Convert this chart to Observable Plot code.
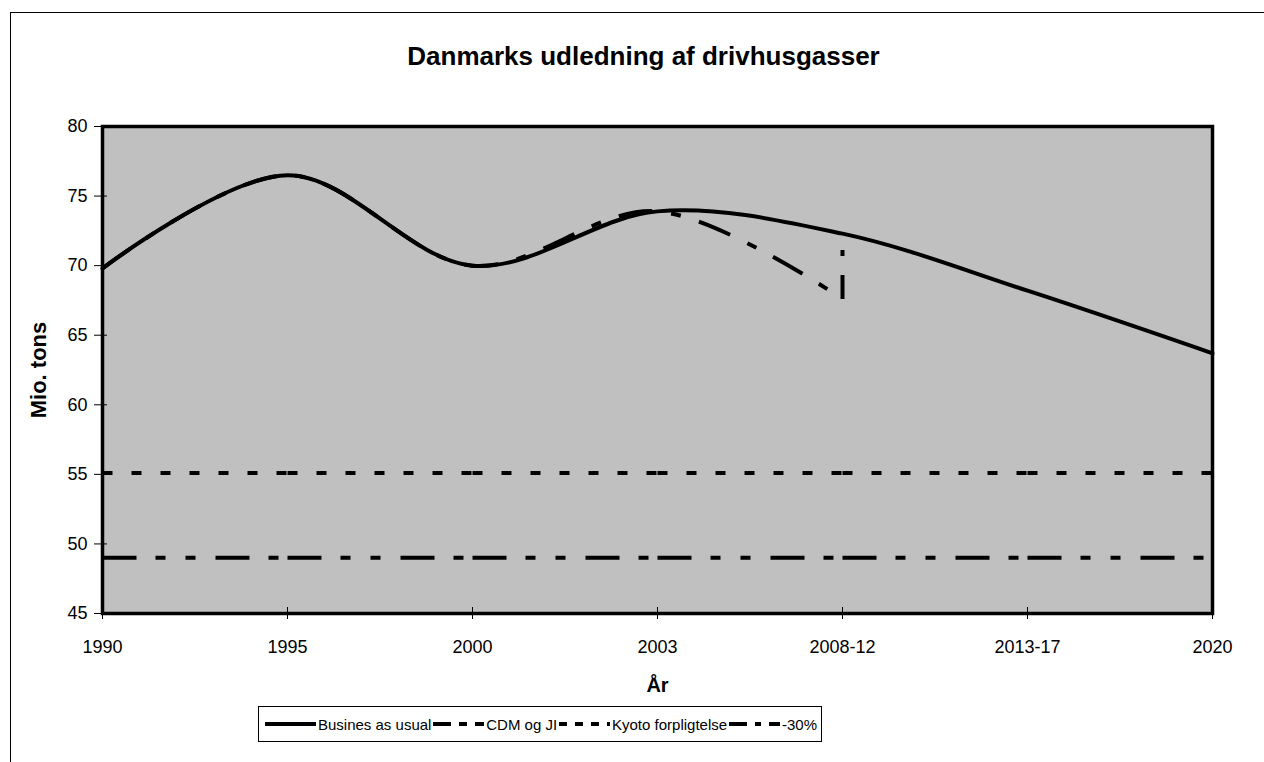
<!DOCTYPE html>
<html><head><meta charset="utf-8">
<script src="https://cdn.jsdelivr.net/npm/d3@7"></script>
<script src="https://cdn.jsdelivr.net/npm/@observablehq/plot@0.6"></script>
<style>
body{margin:0;background:#fff;font-family:"Liberation Sans",Arial,sans-serif}
#wrap{position:relative;width:1264px;height:762px;overflow:hidden;background:#fff}
#border{position:absolute;left:10px;top:12px;width:1400px;height:900px;border-left:1px solid #000;border-top:1px solid #000}
#chart{position:absolute;left:0;top:0}
#legend{position:absolute;left:258px;top:706px;width:564px;box-sizing:border-box;border:1px solid #000;background:#fff;display:flex;align-items:center;justify-content:space-between;height:36px;padding:0 4px 0 6px;font-size:15px;white-space:nowrap}
#legend .item{display:flex;align-items:center}
#legend svg{margin-right:2px}
</style></head><body>
<div id="wrap"><div id="border"></div><div id="chart"></div><div id="legend"></div></div>
<script>
const categories = ["1990","1995","2000","2003","2008-12","2013-17","2020"];
const businessAsUsual = [69.8, 76.5, 70.0, 73.9, 72.3, 68.2, 63.7];
const cdmCategories = ["1990","1995","2000","2003","2008-12","2008-12"];
const cdmValues = [69.8, 76.5, 70.0, 73.9, 67.6, 71.3];
const kyotoValue = 55.1;
const minus30Value = 49.0;
const yTicks = [45,50,55,60,65,70,75,80];
const seriesNames = ["Busines as usual","CDM og JI","Kyoto forpligtelse","-30%"];
const title = "Danmarks udledning af drivhusgasser";
const xLabel = "År";
const yLabel = "Mio. tons";

const dashes = ["none","34,19,10,19","10,19","34,19,10,20,10,20"];
const legendDashes = ["none","18,8,8,8","8,8","18,8,6,8"];
const lw = 4;

const bauData = categories.map((c,i)=>({x:i, y:businessAsUsual[i]}));
const cdmData = cdmCategories.map((c,i)=>({x:categories.indexOf(c), y:cdmValues[i]}));
const cdmCurve = cdmData.slice(0, cdmData.length-1);
const cdmLast = cdmData.slice(cdmData.length-2);
function segs(v){
  const out=[];
  for(let i=0;i<categories.length-1;i++){ out.push({x:i,y:v,s:i},{x:i+1,y:v,s:i}); }
  return out;
}
const kyotoData = segs(kyotoValue);
const m30Data = segs(minus30Value);

const fontFamily = "Liberation Sans, Arial, sans-serif";
const chart = Plot.plot({
  width: 1264, height: 762,
  marginLeft: 102, marginRight: 52, marginTop: 126, marginBottom: 149,
  style: {fontFamily, fontSize:"18px", background:"transparent", color:"#000", overflow:"visible"},
  x: {domain:[0, categories.length-1]},
  y: {domain:[45,80]},
  marks: [
    Plot.frame({fill:"#c0c0c0"}),
    Plot.line(m30Data, {x:"x", y:"y", z:"s", stroke:"#000", strokeWidth:lw, strokeDasharray:dashes[3], strokeLinecap:"butt"}),
    Plot.line(kyotoData, {x:"x", y:"y", z:"s", stroke:"#000", strokeWidth:lw, strokeDasharray:dashes[2], strokeLinecap:"butt"}),
    Plot.line(cdmCurve, {x:"x", y:"y", curve:"catmull-rom", stroke:"#000", strokeWidth:lw, strokeDasharray:dashes[1], strokeLinecap:"butt"}),
    Plot.line(cdmLast, {x:"x", y:"y", stroke:"#000", strokeWidth:lw, strokeDasharray:"24,19,6,19", strokeLinecap:"butt"}),
    Plot.line(bauData, {x:"x", y:"y", curve:"catmull-rom", stroke:"#000", strokeWidth:lw}),
    Plot.frame({stroke:"#000", strokeWidth:3.5}),
    Plot.axisX({ticks: d3.range(categories.length), tickFormat: i=>categories[i], tickSize:12, dy:-6, tickPadding:21, label:null, fontSize:18}),
    Plot.axisY({ticks: yTicks, tickSize:13, dx:5, tickPadding:7, label:null, fontSize:18}),
    Plot.text([title], {frameAnchor:"top", dy:-70, dx:-14, fontWeight:"bold", fontSize:26, lineAnchor:"middle", textAnchor:"middle"}),
    Plot.text([xLabel], {frameAnchor:"bottom", dy:72, fontWeight:"bold", fontSize:20, lineAnchor:"middle", textAnchor:"middle"}),
    Plot.text([yLabel], {frameAnchor:"left", dx:-64, rotate:-90, fontWeight:"bold", fontSize:22, lineAnchor:"middle", textAnchor:"middle"})
  ]
});
document.getElementById("chart").appendChild(chart);

const legend = document.getElementById("legend");
seriesNames.forEach((name,i)=>{
  const item = document.createElement("span");
  item.className="item";
  const svg = d3.create("svg").attr("width",51).attr("height",10);
  svg.append("line").attr("x1",0).attr("x2",51).attr("y1",5).attr("y2",5)
    .attr("stroke","#000").attr("stroke-width",lw)
    .attr("stroke-dasharray", legendDashes[i]==="none"?null:legendDashes[i]);
  item.appendChild(svg.node());
  const t=document.createElement("span"); t.textContent=name; item.appendChild(t);
  legend.appendChild(item);
});
</script>
</body></html>
